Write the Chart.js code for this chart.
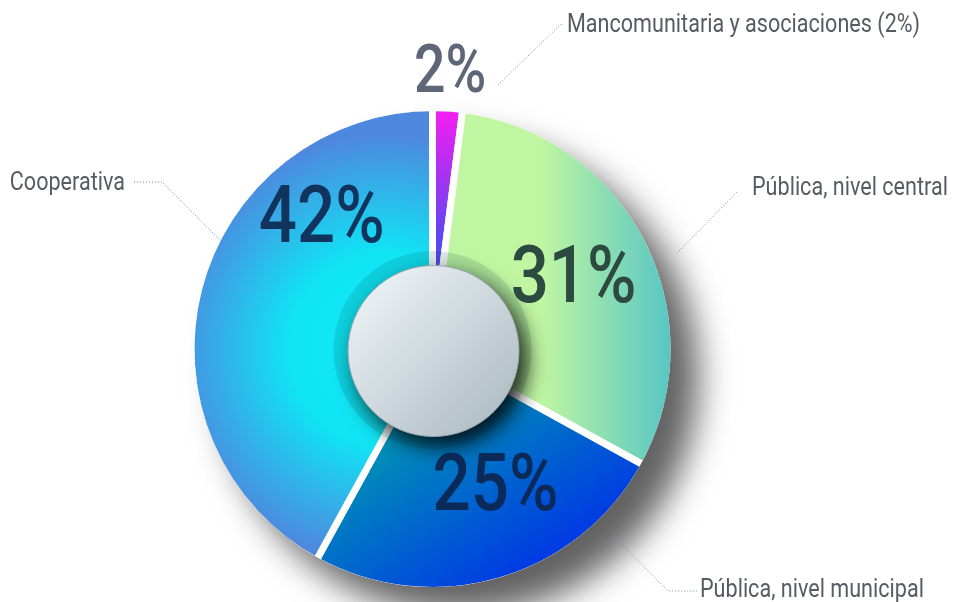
<!DOCTYPE html>
<html>
<head>
<meta charset="utf-8">
<script src="https://cdn.jsdelivr.net/npm/chart.js@4"></script>
<style>
  html, body { margin: 0; padding: 0; background: #fff; }
  #wrap { position: relative; width: 953px; height: 602px; }
</style>
</head>
<body>
<div id="wrap"><canvas id="chart"></canvas></div>
<script>
// data
const categories = ['Mancomunitaria y asociaciones', 'Pública, nivel central', 'Pública, nivel municipal', 'Cooperativa'];
const shares = [2, 31, 25, 42];

const pctColors = ['#5e6678', '#2c4a40', '#0b2a5a', '#10345e'];
// where each percent sits: fraction along the slice, radius ratio
const pctPlace = [[0.5, 1.18], [0.49, 0.672], [0.397, 0.615], [0.74, 0.735]];
const pctSize = [66, 80, 80, 80];

// callout text anchors + dotted leaders (canvas px)
const callouts = [
  { x: 567, y: 32, align: 'left', pts: [[498, 85], [560, 25], [563, 24]] },
  { x: 752, y: 195, align: 'left', pts: [[677, 253], [737, 192]] },
  { x: 700, y: 597, align: 'left', pts: [[610, 532], [668, 591], [697, 591]] },
  { x: 125, y: 190, align: 'right', pts: [[134, 182], [162, 182], [222, 242]] }
];

const BORDER = 7;

function geom(chart) {
  const a = chart.chartArea;
  const cx = (a.left + a.right) / 2, cy = (a.top + a.bottom) / 2;
  const R = (Math.min(a.right - a.left, a.bottom - a.top) - BORDER) / 2 - BORDER / 2;
  return { cx, cy, R };
}

function sliceFill(ctx) {
  const chart = ctx.chart;
  if (!chart.chartArea) return '#ccc';
  const { cx, cy, R } = geom(chart);
  const c = chart.ctx;
  let g;
  switch (ctx.dataIndex) {
    case 0:
      g = c.createLinearGradient(cx, cy - R, cx, cy - R * 0.45);
      g.addColorStop(0, '#f41ef2');
      g.addColorStop(1, '#5848f0');
      return g;
    case 1:
      g = c.createLinearGradient(cx + R * 0.45, 0, cx + R, 0);
      g.addColorStop(0, '#c0f6a2');
      g.addColorStop(1, '#58c6c4');
      return g;
    case 2:
      g = c.createLinearGradient(cx - R * 0.1, cy + R * 0.3, cx + R * 0.35, cy + R);
      g.addColorStop(0, '#0092b6');
      g.addColorStop(1, '#0036e6');
      return g;
    default:
      g = c.createRadialGradient(cx - R * 0.2, cy, 0, cx - R * 0.2, cy, R * 0.9);
      g.addColorStop(0, '#10eaf6');
      g.addColorStop(0.45, '#10e4f5');
      g.addColorStop(1, '#4e88de');
      return g;
  }
}

function condensedText(c, str, x, y, font, k, align) {
  c.save();
  c.font = font;
  c.textAlign = align;
  c.textBaseline = 'alphabetic';
  c.translate(x, y);
  c.scale(k, 1);
  c.fillText(str, 0, 0);
  c.restore();
}

const decor = {
  id: 'decor',
  afterDatasetsDraw(chart) {
    const { cx, cy, R } = geom(chart);
    const c = chart.ctx;
    const arcs = chart.getDatasetMeta(0).data;

    // drop shadow outside the pie only
    c.save();
    c.beginPath();
    c.rect(0, 0, chart.width, chart.height);
    c.arc(cx, cy, R, 0, Math.PI * 2, true);
    c.clip('evenodd');
    c.shadowColor = 'rgba(0,0,0,0.62)';
    c.shadowBlur = 34;
    c.shadowOffsetX = 28;
    c.shadowOffsetY = 28;
    c.fillStyle = '#fff';
    c.beginPath();
    c.arc(cx, cy, R, 0, Math.PI * 2);
    c.fill();
    c.restore();

    // darker ring around the hub
    c.save();
    c.fillStyle = 'rgba(0,60,70,0.13)';
    c.beginPath();
    c.arc(cx, cy + 1, 99, 0, Math.PI * 2);
    c.fill();
    c.restore();

    // hub
    c.save();
    c.shadowColor = 'rgba(0,0,0,0.85)';
    c.shadowBlur = 22;
    c.shadowOffsetX = 8;
    c.shadowOffsetY = 10;
    const hg = c.createLinearGradient(cx - 60, cy - 60, cx + 60, cy + 60);
    hg.addColorStop(0, '#e8eff3');
    hg.addColorStop(1, '#b4c1c7');
    c.fillStyle = hg;
    c.beginPath();
    c.arc(cx + 1, cy + 2, 85.5, 0, Math.PI * 2);
    c.fill();
    c.restore();
    c.save();
    c.strokeStyle = '#9ea9b2';
    c.lineWidth = 1;
    c.beginPath();
    c.arc(cx + 1, cy + 2, 85.5, 0, Math.PI * 2);
    c.stroke();
    c.restore();

    // percentages
    arcs.forEach((arc, i) => {
      const [f, rr] = pctPlace[i];
      const ang = arc.startAngle + f * (arc.endAngle - arc.startAngle);
      const x = cx + R * rr * Math.cos(ang);
      const y = cy + R * rr * Math.sin(ang) + pctSize[i] * 0.711 / 2;
      c.fillStyle = pctColors[i];
      condensedText(c, shares[i] + '%', x, y, '500 ' + pctSize[i] + 'px Roboto', 0.84, 'center');
    });

    // callouts
    callouts.forEach((co, i) => {
      c.save();
      c.strokeStyle = '#7a82a2';
      c.lineWidth = 1;
      c.setLineDash([1, 2]);
      c.beginPath();
      co.pts.forEach((p, j) => j ? c.lineTo(p[0], p[1]) : c.moveTo(p[0], p[1]));
      c.stroke();
      c.restore();
      const txt = i === 0 ? categories[i] + ' (' + shares[i] + '%)' : categories[i];
      c.fillStyle = '#585c62';
      condensedText(c, txt, co.x, co.y, '26px Roboto', 0.83, co.align);
    });
  }
};

new Chart(document.getElementById('chart'), {
  type: 'pie',
  data: {
    labels: categories,
    datasets: [{
      data: shares,
      backgroundColor: sliceFill,
      borderColor: '#ffffff',
      borderWidth: BORDER,
      hoverOffset: 0
    }]
  },
  options: {
    responsive: true,
    maintainAspectRatio: false,
    animation: false,
    layout: { padding: { left: 187.5, top: 104, right: 275.5, bottom: 8 } },
    plugins: {
      legend: { display: false },
      tooltip: { enabled: false }
    }
  },
  plugins: [decor]
});
</script>
</body>
</html>
